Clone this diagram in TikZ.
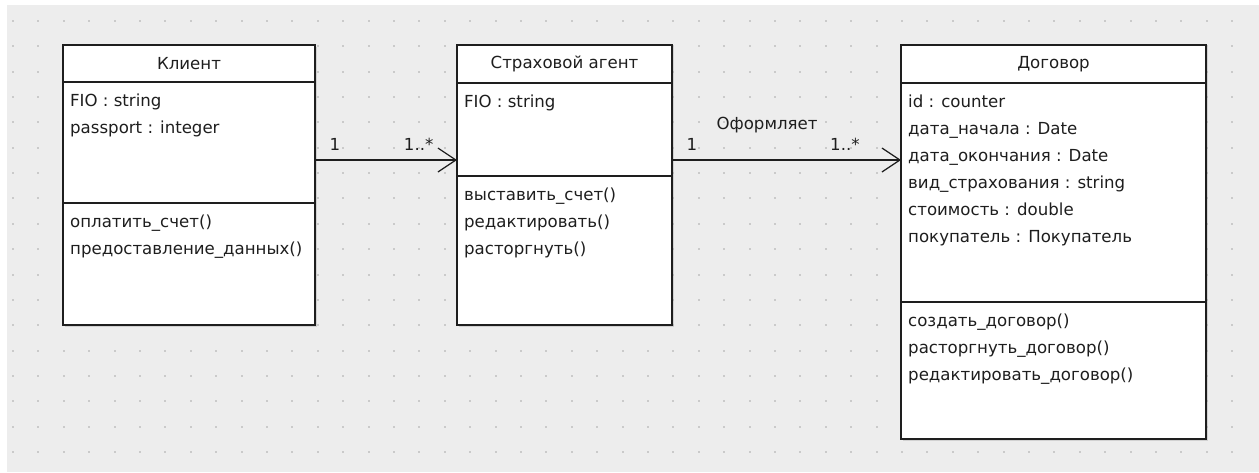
\documentclass[tikz,border=0pt]{standalone}
\usepackage{fontspec}
\setmainfont{DejaVu Sans}
\usetikzlibrary{positioning,arrows.meta,shadows}

\definecolor{canvas}{HTML}{EDEDED}
\definecolor{griddot}{HTML}{CACACA}
\definecolor{ink}{HTML}{1E1E1E}

\tikzset{
  part/.style={draw=ink, fill=white, line width=1.3pt, inner sep=0pt, outer sep=0pt,
    anchor=north west, drop shadow={shadow xshift=1.5pt, shadow yshift=-1.5pt, opacity=0.25}},
  title/.style={text=ink, font=\fontsize{16.6}{27}\selectfont},
  members/.style={text=ink, anchor=north west, align=left, inner sep=0pt,
    font=\fontsize{16.6}{27}\selectfont},
  mult/.style={text=ink, inner sep=0pt, font=\fontsize{16.6}{20}\selectfont},
  assoc/.style={draw=ink, line width=1.2pt, -{Straight Barb[length=18pt,width=24pt]}},
}

\begin{document}
\begin{tikzpicture}[x=1pt,y=-1pt]
  \useasboundingbox (0,0) rectangle (1259,472);
  \fill[canvas] (7,5) rectangle (1259,472);
  \foreach \i in {0,...,48}
    \foreach \j in {0,...,17}
      \fill[griddot] (12+25.4*\i,20+25.35*\j) rectangle ++(2,2);

  % Klient
  \node[part, title, minimum width=252, minimum height=37] (klient) at (63,45) {Клиент};
  \node[part, minimum width=252, minimum height=121] (klient-attr) at (klient.south west) {};
  \node[part, minimum width=252, minimum height=122] (klient-ops) at (klient-attr.south west) {};
  \node[members, below right=12pt and 7pt of klient-attr.north west] (klient-attr-text)
    {FIO : string\\passport : integer};
  \node[members, below right=12pt and 7pt of klient-ops.north west] (klient-ops-text)
    {оплатить\_счет()\\предоставление\_данных()};

  % Agent
  \node[part, title, minimum width=215, minimum height=38] (agent) at (457,45) {Страховой агент};
  \node[part, minimum width=215, minimum height=93] (agent-attr) at (agent.south west) {};
  \node[part, minimum width=215, minimum height=149] (agent-ops) at (agent-attr.south west) {};
  \node[members, below right=12pt and 7pt of agent-attr.north west] (agent-attr-text)
    {FIO : string};
  \node[members, below right=12pt and 7pt of agent-ops.north west] (agent-ops-text)
    {выставить\_счет()\\редактировать()\\расторгнуть()};

  % Dogovor
  \node[part, title, minimum width=305, minimum height=38] (dogovor) at (901,45) {Договор};
  \node[part, minimum width=305, minimum height=219] (dogovor-attr) at (dogovor.south west) {};
  \node[part, minimum width=305, minimum height=137] (dogovor-ops) at (dogovor-attr.south west) {};
  \node[members, below right=12pt and 7pt of dogovor-attr.north west] (dogovor-attr-text)
    {id : counter\\дата\_начала : Date\\дата\_окончания : Date\\вид\_страхования : string\\стоимость : double\\покупатель : Покупатель};
  \node[members, below right=12pt and 7pt of dogovor-ops.north west] (dogovor-ops-text)
    {создать\_договор()\\расторгнуть\_договор()\\редактировать\_договор()};

  % Associations
  \coordinate (klient-port) at ([yshift=-17.5pt]klient-attr.east);
  \coordinate (agent-port) at ([yshift=-30.5pt]agent-attr.east);
  \draw[assoc] (klient-port) -- node[mult, pos=0.14, above=9pt] {1}
    node[mult, pos=0.73, above=9pt] {1..*} (klient-port -| agent-attr.west);
  \draw[assoc] (agent-port) -- node[mult, pos=0.087, above=9pt] {1}
    node[mult, pos=0.415, above=26pt] {Оформляет}
    node[mult, pos=0.755, above=9pt] {1..*} (agent-port -| dogovor-attr.west);
\end{tikzpicture}
\end{document}
